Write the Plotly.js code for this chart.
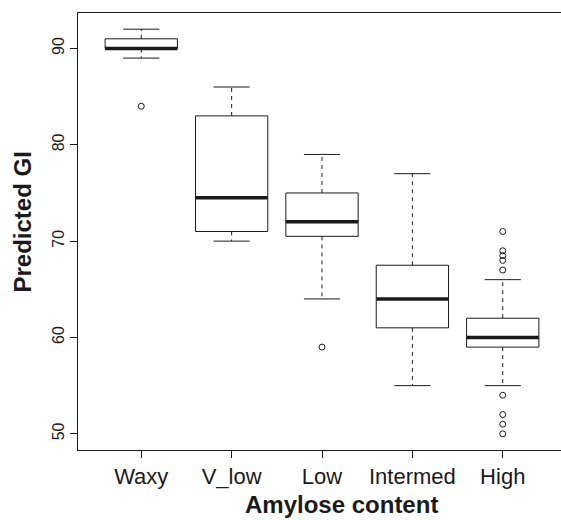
<!DOCTYPE html>
<html>
<head>
<meta charset="utf-8">
<script src="https://cdn.plot.ly/plotly-3.0.1.min.js"></script>
<style>
html,body{margin:0;padding:0;background:#fff;overflow:hidden;}
#wrap{width:561px;height:520px;overflow:hidden;position:relative;background:#fff;}
#chart{width:566px;height:520px;}
</style>
</head>
<body>
<div id="wrap"><div id="chart"></div></div>
<script>
// ---- data ----
var categories   = ['Waxy', 'V_low', 'Low', 'Intermed', 'High'];
var lowerWhisker = [89, 70, 64, 55, 55];
var q1           = [90, 71, 70.5, 61, 59];
var medians      = [90, 74.5, 72, 64, 60];
var q3           = [91, 83, 75, 67.5, 62];
var upperWhisker = [92, 86, 79, 77, 66];
var outliers     = [[84], [], [59], [], [71, 69, 68.5, 68, 67, 54, 52, 51, 50]];
var yTicks       = [50, 60, 70, 80, 90];

// ---- build traces ----
var INK = '#1a1a1a';
var half = 0.4, stapleHalf = 0.2;
var boxX = [], boxY = [], medX = [], medY = [], whX = [], whY = [], stX = [], stY = [], outX = [], outY = [];
categories.forEach(function (c, k) {
  var i = k + 1;
  boxX.push(i - half, i + half, i + half, i - half, i - half, null);
  boxY.push(q1[k], q1[k], q3[k], q3[k], q1[k], null);
  medX.push(i - half, i + half, null);
  medY.push(medians[k], medians[k], null);
  whX.push(i, i, null, i, i, null);
  whY.push(q3[k], upperWhisker[k], null, q1[k], lowerWhisker[k], null);
  stX.push(i - stapleHalf, i + stapleHalf, null, i - stapleHalf, i + stapleHalf, null);
  stY.push(upperWhisker[k], upperWhisker[k], null, lowerWhisker[k], lowerWhisker[k], null);
  outliers[k].forEach(function (v) { outX.push(i); outY.push(v); });
});

var traces = [
  {x: whX, y: whY, mode: 'lines', line: {color: INK, width: 1, dash: '4px,4px'}, hoverinfo: 'skip'},
  {x: stX, y: stY, mode: 'lines', line: {color: INK, width: 1}, hoverinfo: 'skip'},
  {x: boxX, y: boxY, mode: 'lines', line: {color: INK, width: 1}, hoverinfo: 'skip'},
  {x: medX, y: medY, mode: 'lines', line: {color: INK, width: 3.5}, hoverinfo: 'skip'},
  {x: outX, y: outY, mode: 'markers', marker: {symbol: 'circle-open', size: 6, color: INK, line: {width: 1, color: INK}}, hoverinfo: 'skip'}
];

var FONT = 'Liberation Sans, Arial, Helvetica, sans-serif';
var layout = {
  width: 566, height: 520,
  margin: {l: 78, r: 0, t: 13, b: 70},
  paper_bgcolor: '#fff', plot_bgcolor: '#fff',
  showlegend: false,
  font: {family: FONT, color: INK},
  xaxis: {
    range: [0.3, 5.7],
    tickmode: 'array', tickvals: categories.map(function (c, k) { return k + 1; }), ticktext: categories,
    ticks: 'outside', ticklen: 7, tickwidth: 1, tickcolor: INK,
    showline: true, linecolor: INK, linewidth: 1, mirror: true,
    showgrid: false, zeroline: false,
    tickfont: {family: FONT, size: 22, color: INK}
  },
  yaxis: {
    range: [48.32, 93.68],
    tickmode: 'array', tickvals: yTicks, ticktext: yTicks.map(String),
    tickangle: -90,
    ticks: 'outside', ticklen: 7, tickwidth: 1, tickcolor: INK,
    showline: true, linecolor: INK, linewidth: 1, mirror: false,
    showgrid: false, zeroline: false,
    tickfont: {family: FONT, size: 16, color: INK}
  },
  annotations: [
    {text: '<b>Amylose content</b>', xref: 'paper', yref: 'paper', x: 0.540, y: -0.1236,
     xanchor: 'center', yanchor: 'middle', showarrow: false, font: {family: FONT, size: 24, color: INK}},
    {text: '<b>Predicted GI</b>', xref: 'paper', yref: 'paper', x: -0.1137, y: 0.5217, textangle: -90,
     xanchor: 'center', yanchor: 'middle', showarrow: false, font: {family: FONT, size: 24, color: INK}}
  ]
};

Plotly.newPlot('chart', traces, layout, {staticPlot: true, displayModeBar: false});
</script>
</body>
</html>
